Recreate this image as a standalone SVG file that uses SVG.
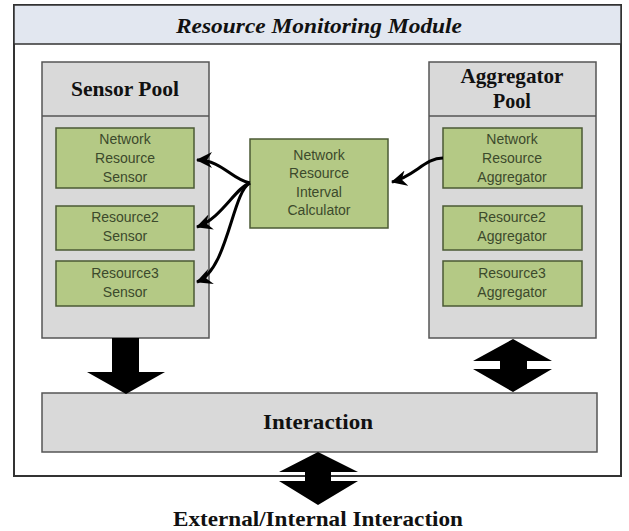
<svg xmlns="http://www.w3.org/2000/svg" width="629" height="531" viewBox="0 0 629 531">
<defs>
<style>
.frame{fill:#ffffff;stroke:#333;stroke-width:2}
.titlebar{fill:#e2e7f0;stroke:#333;stroke-width:1.5}
.pool{fill:#d9d9d9;stroke:#555;stroke-width:1.5}
.box{fill:#b4c985;stroke:#4b5a35;stroke-width:1.5}
.t{font-family:"Liberation Serif",serif;font-weight:bold;fill:#111;text-anchor:middle}
.s{font-family:"Liberation Sans",Arial,sans-serif;font-size:14px;fill:#3c4a2c;text-anchor:middle}
.c{fill:none;stroke:#000;stroke-width:3;marker-end:url(#ah)}
.big{fill:#000}
</style>
<marker id="ah" markerUnits="userSpaceOnUse" markerWidth="20" markerHeight="18" refX="15" refY="8" orient="auto">
<path d="M0,0 L16,8 L0,16 L5,8 z" fill="#000"/>
</marker>
</defs>
<g id="module">
<rect class="frame" x="14" y="5" width="607" height="471"/>
<rect class="titlebar" x="14" y="5" width="607" height="39"/>
<text class="t" x="319" y="33" font-size="22" font-style="italic" textLength="286" lengthAdjust="spacingAndGlyphs">Resource Monitoring Module</text>
</g>
<g id="sensor-pool">
<rect class="pool" x="42" y="62" width="167" height="276"/>
<line x1="42" y1="116" x2="209" y2="116" stroke="#555" stroke-width="1.5"/>
<text class="t" x="125" y="96" font-size="20" textLength="108" lengthAdjust="spacingAndGlyphs">Sensor Pool</text>
</g>
<g id="aggregator-pool">
<rect class="pool" x="429" y="62" width="167" height="276"/>
<line x1="429" y1="116" x2="596" y2="116" stroke="#555" stroke-width="1.5"/>
<text class="t" x="512" y="83" font-size="20" textLength="103" lengthAdjust="spacingAndGlyphs">Aggregator</text>
<text class="t" x="512" y="108" font-size="20">Pool</text>
</g>
<g id="network-resource-sensor">
<rect class="box" x="56" y="128" width="138" height="60"/>
<text class="s" x="125" y="144">Network</text>
<text class="s" x="125" y="163">Resource</text>
<text class="s" x="125" y="182">Sensor</text>
</g>
<g id="resource2-sensor">
<rect class="box" x="56" y="206" width="138" height="44"/>
<text class="s" x="125" y="222">Resource2</text>
<text class="s" x="125" y="241">Sensor</text>
</g>
<g id="resource3-sensor">
<rect class="box" x="56" y="261" width="138" height="45"/>
<text class="s" x="125" y="278">Resource3</text>
<text class="s" x="125" y="297">Sensor</text>
</g>
<g id="interval-calculator">
<rect class="box" x="250" y="139" width="138" height="89"/>
<text class="s" x="319" y="160">Network</text>
<text class="s" x="319" y="178">Resource</text>
<text class="s" x="319" y="197">Interval</text>
<text class="s" x="319" y="215">Calculator</text>
</g>
<g id="network-resource-aggregator">
<rect class="box" x="443" y="128" width="139" height="60"/>
<text class="s" x="512" y="144">Network</text>
<text class="s" x="512" y="163">Resource</text>
<text class="s" x="512" y="182">Aggregator</text>
</g>
<g id="resource2-aggregator">
<rect class="box" x="443" y="206" width="139" height="44"/>
<text class="s" x="512" y="222">Resource2</text>
<text class="s" x="512" y="241">Aggregator</text>
</g>
<g id="resource3-aggregator">
<rect class="box" x="443" y="261" width="139" height="45"/>
<text class="s" x="512" y="278">Resource3</text>
<text class="s" x="512" y="297">Aggregator</text>
</g>
<g id="interaction">
<rect class="pool" x="42" y="393" width="555" height="59"/>
<text class="t" x="318" y="429" font-size="20" textLength="110" lengthAdjust="spacingAndGlyphs">Interaction</text>
</g>
<g id="connectors">
<path class="c" d="M443,158 C425,158 415,176 392,182"/>
<path class="c" d="M250,183 C232,180 222,160 197,160"/>
<path class="c" d="M250,183 C235,188 222,218 197,227"/>
<path class="c" d="M250,183 C232,192 228,270 197,282"/>
<path class="big" d="M112,338 H139 V372 H165 L126,394 L87,372 H112 Z"/>
<path class="big" d="M513,339 L552,361 H527 V369 H552 L513,392 L473,369 H500 V361 H473 Z"/>
<path class="big" d="M318,452 L358,472 H331 V481 H358 L318,505 L279,481 H305 V472 H279 Z"/>
</g>
<text class="t" x="318" y="526" font-size="21" textLength="290" lengthAdjust="spacingAndGlyphs">External/Internal Interaction</text>
</svg>
